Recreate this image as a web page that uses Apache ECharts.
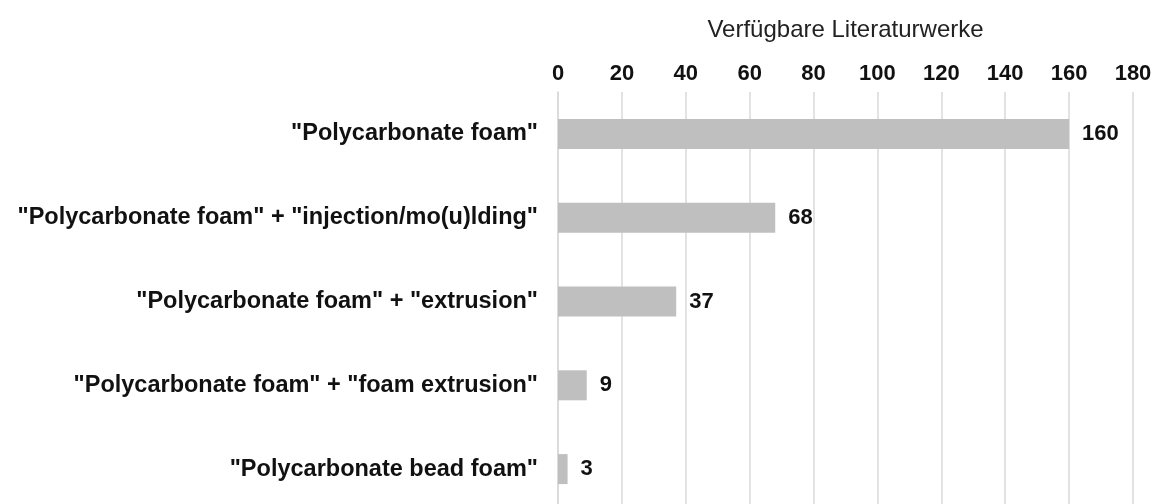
<!DOCTYPE html>
<html>
<head>
<meta charset="utf-8">
<script src="https://cdn.jsdelivr.net/npm/echarts@6/dist/echarts.min.js"></script>
<style>html,body{margin:0;padding:0;background:#fff;overflow:hidden;}#c{width:1160px;height:511px;}</style>
</head>
<body>
<div id="c"></div>
<script>
const categories = [
  '"Polycarbonate foam"',
  '"Polycarbonate foam" + "injection/mo(u)lding"',
  '"Polycarbonate foam" + "extrusion"',
  '"Polycarbonate foam" + "foam extrusion"',
  '"Polycarbonate bead foam"'
];
const values = [160, 68, 37, 9, 3];
const axisTitle = 'Verfügbare Literaturwerke';

const FONT = 'Liberation Sans, Arial, sans-serif';
const chart = echarts.init(document.getElementById('c'), null, {renderer: 'canvas'});
chart.setOption({
  animation: false,
  backgroundColor: '#ffffff',
  grid: {left: 558, right: 27, top: 92, bottom: 0, containLabel: false},
  xAxis: {
    type: 'value', position: 'top', min: 0, max: 180, interval: 20,
    name: axisTitle, nameLocation: 'middle', nameGap: 50,
    nameTextStyle: {fontFamily: FONT, fontSize: 24, color: '#222'},
    axisLine: {show: false}, axisTick: {show: false},
    axisLabel: {fontFamily: FONT, fontSize: 22, fontWeight: 'bold', color: '#111', margin: 7},
    splitLine: {show: true, lineStyle: {color: '#d9d9d9', width: 1.5}}
  },
  yAxis: {
    type: 'category', data: categories, inverse: true,
    axisLine: {show: true, lineStyle: {color: '#d9d9d9', width: 1.5}},
    axisTick: {show: false},
    axisLabel: {fontFamily: FONT, fontSize: 23.5, fontWeight: 'bold', color: '#111', margin: 20}
  },
  series: [{
    type: 'bar', data: values, barWidth: 30,
    itemStyle: {color: '#bfbfbf'},
    label: {show: true, position: 'right', distance: 13, fontFamily: FONT, fontSize: 22, fontWeight: 'bold', color: '#111'}
  }]
});
</script>
</body>
</html>
